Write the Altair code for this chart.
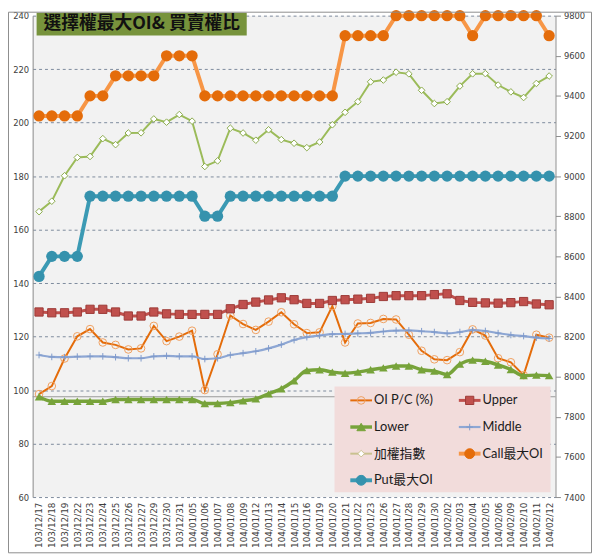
import altair as alt
import pandas as pd

dates = ["103/12/17", "103/12/18", "103/12/19", "103/12/22", "103/12/23", "103/12/24",
         "103/12/25", "103/12/26", "103/12/27", "103/12/29", "103/12/30", "103/12/31",
         "104/01/05", "104/01/06", "104/01/07", "104/01/08", "104/01/09", "104/01/12",
         "104/01/13", "104/01/14", "104/01/15", "104/01/16", "104/01/19", "104/01/20",
         "104/01/21", "104/01/22", "104/01/23", "104/01/26", "104/01/27", "104/01/28",
         "104/01/29", "104/01/30", "104/02/02", "104/02/03", "104/02/04", "104/02/05",
         "104/02/06", "104/02/09", "104/02/10", "104/02/11", "104/02/12"]

pc_ratio = [98.5, 101.5, 111.8, 120.1, 122.8, 117.8, 116.9, 115.2, 115.6, 124.0,
            118.3, 120.0, 122.2, 100.0, 113.4, 127.9, 124.7, 122.5, 125.6, 129.1,
            124.6, 121.3, 121.6, 131.4, 117.8, 124.9, 125.1, 126.6, 126.4, 120.7,
            114.7, 111.5, 111.2, 114.2, 122.7, 120.4, 111.9, 110.4, 105.6, 120.7, 119.6]
upper = [129.2, 128.9, 128.9, 129.2, 130.2, 130.2, 129.2, 127.7, 127.7, 129.2,
         128.5, 128.3, 128.3, 128.3, 128.3, 130.4, 132.0, 132.9, 133.7, 134.5,
         133.8, 132.4, 132.4, 133.5, 133.8, 134.0, 134.3, 135.0, 135.3, 135.3,
         135.3, 135.7, 136.0, 133.5, 132.8, 132.6, 132.5, 132.7, 133.1, 132.2, 131.9]
lower = [97.5, 95.8, 95.8, 95.8, 95.8, 95.8, 96.5, 96.5, 96.5, 96.5,
         96.5, 96.5, 96.5, 95.0, 95.0, 95.3, 96.0, 96.7, 98.6, 100.5,
         103.5, 107.3, 107.6, 106.7, 106.3, 106.7, 107.6, 108.3, 109.0, 109.0,
         107.6, 107.1, 105.8, 109.7, 111.2, 110.8, 109.4, 107.7, 105.4, 105.6, 105.4]
middle = [113.1, 112.4, 112.3, 112.5, 112.6, 112.6, 112.3, 111.9, 111.9, 112.6,
          112.8, 112.6, 112.6, 111.6, 111.9, 113.1, 113.8, 114.5, 115.6, 117.0,
          118.7, 119.8, 120.4, 120.9, 121.0, 121.2, 121.4, 121.9, 122.2, 122.3,
          122.0, 121.7, 121.2, 121.7, 122.4, 122.1, 121.3, 120.6, 120.2, 119.6, 119.3]
taiex = [8823, 8875, 9002, 9093, 9098, 9187, 9157, 9215, 9216, 9285,
         9269, 9307, 9274, 9048, 9076, 9239, 9215, 9179, 9231, 9182,
         9164, 9142, 9170, 9256, 9318, 9371, 9470, 9479, 9518, 9510,
         9428, 9362, 9371, 9449, 9510, 9511, 9454, 9420, 9392, 9462, 9499]
call_max_oi = [9300, 9300, 9300, 9300, 9400, 9400, 9500, 9500, 9500, 9500,
               9600, 9600, 9600, 9400, 9400, 9400, 9400, 9400, 9400, 9400,
               9400, 9400, 9400, 9400, 9700, 9700, 9700, 9700, 9800, 9800,
               9800, 9800, 9800, 9800, 9700, 9800, 9800, 9800, 9800, 9800, 9700]
put_max_oi = [8500, 8600, 8600, 8600, 8900, 8900, 8900, 8900, 8900, 8900,
              8900, 8900, 8900, 8800, 8800, 8900, 8900, 8900, 8900, 8900,
              8900, 8900, 8900, 8900, 9000, 9000, 9000, 9000, 9000, 9000,
              9000, 9000, 9000, 9000, 9000, 9000, 9000, 9000, 9000, 9000, 9000]

left_ticks = [60, 80, 100, 120, 140, 160, 180, 200, 220, 240]
right_ticks = [7400, 7600, 7800, 8000, 8200, 8400, 8600, 8800, 9000, 9200, 9400, 9600, 9800]
axis_cross_value = 97.5  # secondary horizontal axis line (7900 on right axis)

df = pd.DataFrame({
    "date": dates, "pc": pc_ratio, "upper": upper, "lower": lower, "middle": middle,
    "taiex": taiex, "call": call_max_oi, "put": put_max_oi,
})
one = pd.DataFrame({"k": [0]})

W, H = 530, 488
LABEL_COLOR = "#404040"
AXIS_COLOR = "#8c8c8c"

x_enc = alt.X("date:N", sort=None,
              scale=alt.Scale(type="point", padding=0.5),
              axis=alt.Axis(title=None, labelAngle=270, labelFont="DejaVu Sans",
                            labelFontSize=9, labelColor=LABEL_COLOR, ticks=False,
                            domain=False, labelPadding=5, labelOverlap=False))

left_scale = alt.Scale(domain=[60, 240], nice=False, zero=False)
right_scale = alt.Scale(domain=[7400, 9800], nice=False, zero=False)
left_axis = alt.Axis(title=None, orient="left", values=left_ticks, grid=True,
                     gridDash=[3, 3], gridColor="#7d8a9c", gridWidth=1,
                     domain=True, domainColor=AXIS_COLOR, ticks=False, tickSize=0,
                     labelPadding=4, labelFont="DejaVu Sans", labelFontSize=8.5,
                     labelColor=LABEL_COLOR, format="d")
right_axis = alt.Axis(title=None, orient="right", values=right_ticks, grid=False,
                      domain=True, domainColor=AXIS_COLOR, ticks=True, tickSize=5,
                      tickColor=AXIS_COLOR, labelPadding=3, labelFont="DejaVu Sans",
                      labelFontSize=8.5, labelColor=LABEL_COLOR, format="d")


def yl(field):
    return alt.Y(f"{field}:Q", scale=left_scale, axis=left_axis)


def yr(field):
    return alt.Y(f"{field}:Q", scale=right_scale, axis=right_axis)


base = alt.Chart(df)

cross_rule = alt.Chart(one).mark_rule(color="#9a9a9a", strokeWidth=1.2).encode(
    y=alt.Y("v:Q", scale=left_scale, axis=left_axis),
).transform_calculate(v=str(axis_cross_value))

pc_line = base.mark_line(color="#e46c0a", strokeWidth=2).encode(x=x_enc, y=yl("pc"))
pc_pts = base.mark_point(shape="circle", filled=False, stroke="#f0a060",
                         strokeWidth=1, size=60, opacity=1).encode(x=x_enc, y=yl("pc"))
up_line = base.mark_line(color="#c0504d", strokeWidth=3).encode(x=x_enc, y=yl("upper"))
up_pts = base.mark_point(shape="square", filled=True, fill="#c0504d", stroke="#9c3b38",
                         strokeWidth=1, size=70, opacity=1).encode(x=x_enc, y=yl("upper"))
lo_line = base.mark_line(color="#77a33a", strokeWidth=3.5, interpolate="monotone").encode(
    x=x_enc, y=yl("lower"))
lo_pts = base.mark_point(shape="triangle-up", filled=True, fill="#77a33a",
                         size=75, opacity=1).encode(x=x_enc, y=yl("lower"))
mid_line = base.mark_line(color="#8ea7d4", strokeWidth=2.2, interpolate="monotone").encode(
    x=x_enc, y=yl("middle"))
mid_pts = base.mark_point(shape="M0,-1L0,1M-1,0L1,0", filled=False, stroke="#7f9acb",
                          strokeWidth=1, size=45, opacity=1).encode(x=x_enc, y=yl("middle"))

left_group = alt.layer(cross_rule, pc_line, pc_pts, up_line, up_pts, lo_line, lo_pts,
                       mid_line, mid_pts)

tx_line = base.mark_line(color="#9bbb59", strokeWidth=2).encode(x=x_enc, y=yr("taiex"))
tx_pts = base.mark_point(shape="diamond", filled=True, fill="white", stroke="#8aab4c",
                         strokeWidth=1, size=45, opacity=1).encode(x=x_enc, y=yr("taiex"))
call_line = base.mark_line(color="#f79646", strokeWidth=4).encode(x=x_enc, y=yr("call"))
call_pts = base.mark_point(shape="circle", filled=True, fill="#e46c0a", size=130,
                           opacity=1).encode(x=x_enc, y=yr("call"))
put_line = base.mark_line(color="#3b9ab4", strokeWidth=4).encode(x=x_enc, y=yr("put"))
put_pts = base.mark_point(shape="circle", filled=True, fill="#3592ad", size=130,
                          opacity=1).encode(x=x_enc, y=yr("put"))

right_group = alt.layer(tx_line, tx_pts, call_line, call_pts, put_line, put_pts)

# ---- decorations: frame, title box, legend ----
c1 = alt.Chart(one)
frame = c1.mark_rect(fill=None, stroke="#8c8c8c", strokeWidth=1).encode(
    x=alt.value(-24.5), x2=alt.value(566.5), y=alt.value(-3.5), y2=alt.value(544.5))
title_box = c1.mark_rect(fill="#77933c").encode(
    x=alt.value(4), x2=alt.value(217), y=alt.value(-3), y2=alt.value(20))
title_txt = c1.mark_text(align="center", baseline="middle", font="Noto Sans CJK TC",
                         fontWeight="bold", fontSize=18, color="#111111").encode(
    x=alt.value(110.5), y=alt.value(8.5), text=alt.value("選擇權最大OI& 買賣權比"))

legend_bg = c1.mark_rect(fill="#f2dcdb").encode(
    x=alt.value(306), x2=alt.value(525), y=alt.value(376), y2=alt.value(483))

legend_items = [
    dict(name="OI P/C (%)", line="#e46c0a", lw=2, shape="circle", filled=False,
         fill="white", stroke="#f0a060", size=60),
    dict(name="Upper", line="#c0504d", lw=3, shape="square", filled=True,
         fill="#c0504d", stroke="#9c3b38", size=70),
    dict(name="Lower", line="#77a33a", lw=3.5, shape="triangle-up", filled=True,
         fill="#77a33a", stroke="#77a33a", size=75),
    dict(name="Middle", line="#8ea7d4", lw=2.2, shape="M0,-1L0,1M-1,0L1,0", filled=False,
         fill="white", stroke="#7f9acb", size=45),
    dict(name="加權指數", line="#c9c18f", lw=2, shape="diamond", filled=True,
         fill="white", stroke="#c9c18f", size=45),
    dict(name="Call最大OI", line="#f79646", lw=4, shape="circle", filled=True,
         fill="#e46c0a", stroke="#e46c0a", size=100),
    dict(name="Put最大OI", line="#3b9ab4", lw=4, shape="circle", filled=True,
         fill="#3592ad", stroke="#3592ad", size=100),
]
legend_layers = []
for k, it in enumerate(legend_items):
    col, row = k % 2, k // 2
    lx = 322 + col * 110
    ly = 390 + row * 27
    legend_layers.append(c1.mark_rule(color=it["line"], strokeWidth=it["lw"]).encode(
        x=alt.value(lx), x2=alt.value(lx + 22), y=alt.value(ly)))
    pt_kwargs = dict(shape=it["shape"], filled=it["filled"], stroke=it["stroke"],
                     strokeWidth=1, size=it["size"], opacity=1)
    if it["filled"]:
        pt_kwargs["fill"] = it["fill"]
    legend_layers.append(c1.mark_point(**pt_kwargs).encode(
        x=alt.value(lx + 11), y=alt.value(ly)))
    legend_layers.append(c1.mark_text(align="left", baseline="middle",
                                      font="Lato, Noto Sans CJK TC", fontSize=13,
                                      color="#1a1a1a").encode(
        x=alt.value(lx + 24), y=alt.value(ly), text=alt.value(it["name"])))

chart = alt.layer(
    left_group, right_group, legend_bg, *legend_layers, title_box, title_txt, frame
).resolve_scale(y="independent").properties(
    width=W, height=H,
    autosize=alt.AutoSizeParams(type="none"),
    padding={"left": 25, "top": 4, "right": 37, "bottom": 57},
    background="white",
).configure_view(fill="#f2f2f2", stroke=None)

chart.save("out.html", embed_options={"renderer": "svg", "actions": False})
